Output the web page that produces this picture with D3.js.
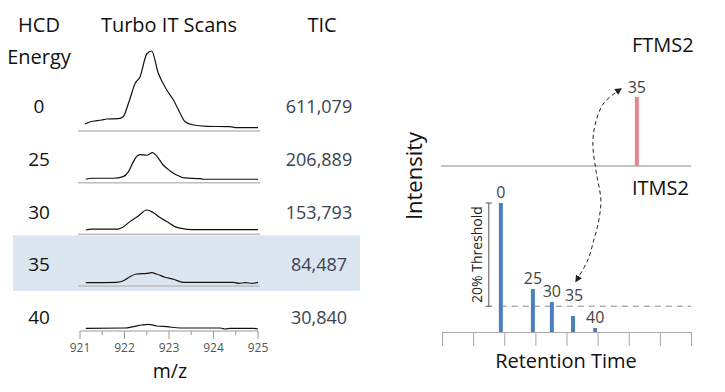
<!DOCTYPE html>
<html><head><meta charset="utf-8">
<script src="https://cdn.jsdelivr.net/npm/d3@7"></script>
<style>html,body{margin:0;padding:0;background:#fff;} svg{display:block;font-family:"Open Sans",sans-serif;}</style>
</head><body><svg id="c" width="725" height="392"></svg>
<script>
// ---------- data ----------
const energies = [0, 25, 30, 35, 40];
const ticValues = [611079, 206889, 153793, 84487, 30840];
const mzTicks = [921, 922, 923, 924, 925];
const mzMinorTicks = [921.5, 922.5, 923.5, 924.5];
const highlightEnergy = 35;

// Turbo IT scans (relative intensity, % of the 0 eV apex)
const mz0  = [921.11,921.22,921.49,921.6,921.86,921.97,922.09,922.24,922.35,922.5,922.61,922.76,922.95,923.1,923.25,923.36,923.55,923.85,924.37,924.52,925.0];
const int0 = [8.75,11.25,13.75,15,15.4,17.9,34.6,59.6,67.9,96.25,100,72.1,51.25,38.75,22.1,11.6,7.5,5.9,5.4,4.1,4.1];
const mz25  = [921.13,921.26,921.75,921.97,922.09,922.2,922.27,922.35,922.5,922.63,922.72,922.87,923.02,923.17,923.36,923.7,923.77,925.0];
const int25 = [4.3,5.5,5.5,7.5,13.8,26.3,32.5,35,34.3,37.5,33.4,22.1,15,9.6,5.9,5,4.3,4.3];
const mz30  = [921.13,921.26,921.86,921.97,922.12,922.31,922.5,922.65,922.8,922.98,923.13,923.28,923.51,925.0];
const int30 = [5.4,6.6,6.6,9.1,15.9,22.9,30.4,27.1,20.9,15,9.6,7.5,5.9,5.9];
const mz35  = [921.13,921.82,922.01,922.12,922.27,922.5,922.61,922.72,922.91,923.1,923.32,924.45,924.57,924.72,924.87,925.0];
const int35 = [4.1,4.6,7.5,11.6,15,15.9,16.6,15,10.9,8.4,4.6,4.6,3.4,4.1,3.4,4.6];
const mz40  = [921.13,922.01,922.2,922.39,922.53,922.72,922.95,923.25,924.15,924.26,924.37,924.89,925.0];
const int40 = [3.4,3.75,5.4,7.5,8.4,6.25,5.4,3.75,3.75,2.5,3.4,3.4,2.5];

// Right panel (schematic retention time / intensity)
const itRetention = [1.89, 2.92, 3.53, 4.21, 4.92];
const itIntensity = [100, 33.3, 23.3, 12.4, 3.1];
const ftEnergy = 35;
const ftRetention = 6.26;
const ftIntensity = 53.5;
const thresholdPct = 20;
const rtTicks = [0,1,2,3,4,5,6,7,8];

// ---------- drawing ----------
const svg = d3.select("#c");
const scans = [[mz0,int0],[mz25,int25],[mz30,int30],[mz35,int35],[mz40,int40]];

// Left panel scales
const xMz = d3.scaleLinear().domain([921, 925]).range([80, 258]);
const hInt = d3.scaleLinear().domain([0, 100]).range([0, 80]);
const sepY = d3.scaleLinear().domain([0, 3]).range([131, 286]);
const labelY = d3.scaleLinear().domain([0, 4]).range([113, 324]);
const axisY = 331;

// highlight band
const hi = energies.indexOf(highlightEnergy);
svg.append("rect").attr("x", 13).attr("width", 347)
  .attr("y", sepY(hi - 1) + 1).attr("height", sepY(hi) + 5 - sepY(hi - 1) - 1)
  .attr("fill", "#dce6f1");

// headers
const hdr = svg.append("g").attr("font-size", 20).attr("fill", "#111").attr("text-anchor", "middle");
hdr.append("text").attr("x", 39).attr("y", 32).text("HCD");
hdr.append("text").attr("x", 39).attr("y", 64).text("Energy");
hdr.append("text").attr("x", 169).attr("y", 32).text("Turbo IT Scans");
hdr.append("text").attr("x", 322).attr("y", 32).text("TIC");

// rows
const line = d3.line().curve(d3.curveMonotoneX);
energies.forEach((e, i) => {
  const base = i < 4 ? sepY(i) : axisY;
  if (i < 4) {
    svg.append("line").attr("x1", 78).attr("x2", 260).attr("y1", base).attr("y2", base)
      .attr("stroke", "#bdbdbd").attr("stroke-width", 1.5);
  }
  const [mz, it] = scans[i];
  svg.append("path")
    .attr("d", line(mz.map((m, k) => [xMz(m), base - hInt(it[k])])))
    .attr("fill", "none").attr("stroke", "#111").attr("stroke-width", 1.2);
  svg.append("text").attr("x", 39).attr("y", labelY(i)).attr("text-anchor", "middle")
    .attr("font-size", 19).attr("fill", "#111").text(e);
  svg.append("text").attr("x", 319).attr("y", labelY(i)).attr("text-anchor", "middle")
    .attr("font-size", 18).attr("fill", "#3a4350").text(d3.format(",")(ticValues[i]));
});

// m/z axis
const gx = svg.append("g").attr("transform", `translate(0,${axisY})`);
gx.append("line").attr("x1", xMz(921)).attr("x2", xMz(925)).attr("stroke", "#999");
gx.selectAll(".maj").data(mzTicks).join("line").attr("x1", d => xMz(d)).attr("x2", d => xMz(d))
  .attr("y1", 0).attr("y2", 8).attr("stroke", "#999");
gx.selectAll(".min").data(mzMinorTicks).join("line").attr("class","min").attr("x1", d => xMz(d)).attr("x2", d => xMz(d))
  .attr("y1", 0).attr("y2", 4).attr("stroke", "#999");
gx.selectAll("text").data(mzTicks).join("text").attr("x", d => xMz(d)).attr("y", 21)
  .attr("text-anchor", "middle").attr("font-size", 12).attr("fill", "#555").text(d => d);
svg.append("text").attr("x", 170).attr("y", 378).attr("text-anchor", "middle")
  .attr("font-size", 19.5).attr("fill", "#111").text("m/z");

// Right panel
const xRT = d3.scaleLinear().domain([0, 8]).range([442, 691]);
const hBar = d3.scaleLinear().domain([0, 100]).range([0, 129]);
const itBase = 332, ftBase = 166;

svg.append("text").attr("transform", "translate(422,176) rotate(-90)").attr("text-anchor", "middle")
  .attr("font-size", 22).attr("fill", "#111").text("Intensity");

svg.append("line").attr("x1", 441).attr("x2", 691).attr("y1", ftBase).attr("y2", ftBase)
  .attr("stroke", "#c4c4c4").attr("stroke-width", 2);

svg.append("text").attr("x", 632).attr("y", 52).attr("font-size", 20).attr("fill", "#111").text("FTMS2");
svg.append("text").attr("x", 632).attr("y", 195).attr("font-size", 20).attr("fill", "#111").text("ITMS2");

// RT axis
const ax = svg.append("g").attr("transform", `translate(0,${itBase})`)
  .call(d3.axisBottom(xRT).tickValues(rtTicks).tickSize(14).tickSizeOuter(0).tickFormat(""));
ax.selectAll("path,line").attr("stroke", "#a8a8a8");
svg.append("text").attr("x", 566).attr("y", 368).attr("text-anchor", "middle")
  .attr("font-size", 20).attr("fill", "#111").text("Retention Time");

// threshold
const thrY = itBase - hBar(thresholdPct * itIntensity[0] / 100);
svg.append("line").attr("x1", xRT(itRetention[0])).attr("x2", 691).attr("y1", thrY).attr("y2", thrY)
  .attr("stroke", "#888").attr("stroke-dasharray", "6,5").attr("stroke-width", 1);
const topY = itBase - hBar(itIntensity[0]);
const brX = xRT(itRetention[0]) - 12;
const br = svg.append("g").attr("stroke", "#555").attr("stroke-width", 1);
br.append("line").attr("x1", brX).attr("x2", brX).attr("y1", topY).attr("y2", thrY);
br.append("line").attr("x1", brX - 3).attr("x2", brX + 3).attr("y1", topY).attr("y2", topY);
br.append("line").attr("x1", brX - 3).attr("x2", brX + 3).attr("y1", thrY).attr("y2", thrY);
svg.append("text").attr("transform", `translate(${brX - 7},${(topY + thrY) / 2}) rotate(-90)`)
  .attr("text-anchor", "middle").attr("font-size", 14).attr("fill", "#222").text("20% Threshold");

// IT bars
energies.forEach((e, i) => {
  const x = xRT(itRetention[i]), y = itBase - hBar(itIntensity[i]);
  svg.append("rect").attr("x", x - 2).attr("width", 4).attr("y", y).attr("height", itBase - y).attr("fill", "#4a80bd");
  const ly = e === ftEnergy ? thrY - 5 : y - 5;
  svg.append("text").attr("x", x + (e === ftEnergy ? 1 : 0)).attr("y", ly).attr("text-anchor", "middle")
    .attr("font-size", 16).attr("fill", "#444").text(e);
});

// FT bar
const fx = xRT(ftRetention), fy = ftBase - hBar(ftIntensity);
svg.append("rect").attr("x", fx - 2).attr("width", 4).attr("y", fy).attr("height", ftBase - fy).attr("fill", "#e8868f");
svg.append("text").attr("x", fx).attr("y", fy - 4).attr("text-anchor", "middle")
  .attr("font-size", 16).attr("fill", "#444").text(ftEnergy);

// dashed double arrow linking FT 35 and IT 35
const defs = svg.append("defs");
defs.append("marker").attr("id", "ah").attr("viewBox", "0 0 10 10").attr("refX", 8).attr("refY", 5)
  .attr("markerWidth", 7).attr("markerHeight", 7).attr("orient", "auto-start-reverse")
  .append("path").attr("d", "M0,0L10,5L0,10z").attr("fill", "#222");
const S = [fx - 16, fy - 8];
const iIdx = energies.indexOf(ftEnergy);
const E = [xRT(itRetention[iIdx]) + 3, thrY - 25];
const offs = [[-17,14],[-25,33],[-28,54],[-25,81],[-20,111],[-22,131],[-27,151],[-33,171]];
const pts = [S, ...offs.map(o => [S[0] + o[0], S[1] + o[1]]), E];
svg.append("path").attr("d", d3.line().curve(d3.curveCatmullRom)(pts))
  .attr("fill", "none").attr("stroke", "#222").attr("stroke-width", 1)
  .attr("stroke-dasharray", "4,3")
  .attr("marker-start", "url(#ah)").attr("marker-end", "url(#ah)");
</script></body></html>
